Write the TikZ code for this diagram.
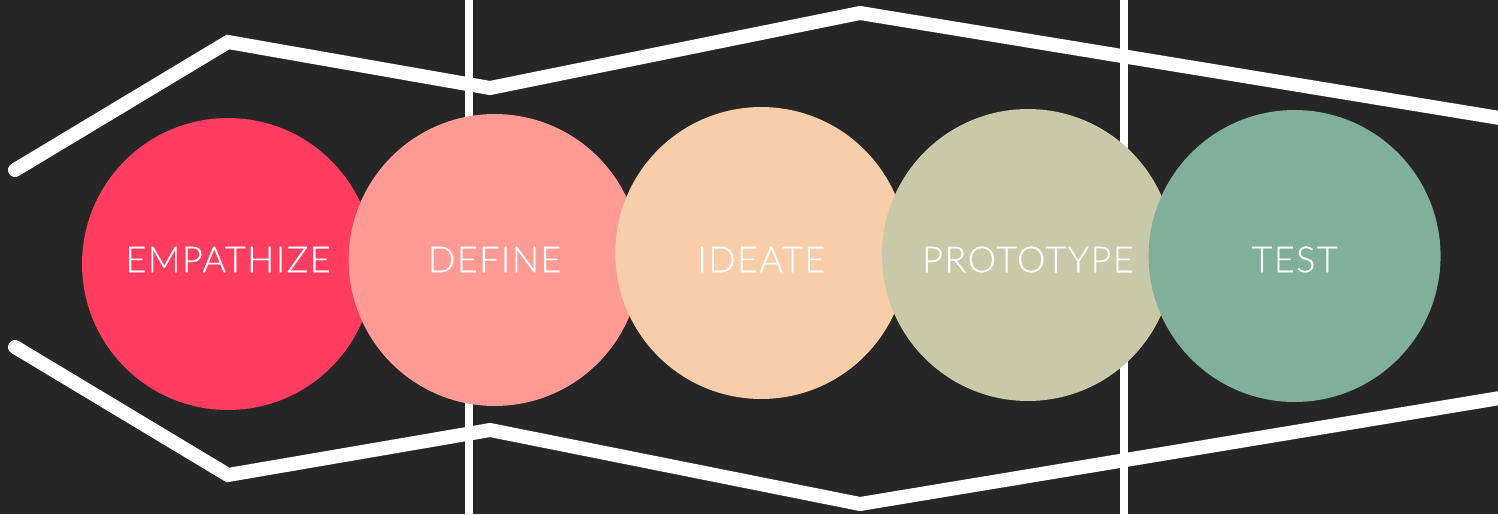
\documentclass[tikz,border=0pt]{standalone}
\usepackage{fontspec}
\setmainfont{Lato Light}[LetterSpace=4, FakeBold=0.3]
\usetikzlibrary{positioning}

\definecolor{bgcol}{HTML}{262626}
\definecolor{empcol}{HTML}{FF3D60}
\definecolor{defcol}{HTML}{FF9A94}
\definecolor{idecol}{HTML}{F8CDAA}
\definecolor{procol}{HTML}{C8C9A9}
\definecolor{tstcol}{HTML}{80B09A}

\begin{document}
\begin{tikzpicture}[x=0.02cm, y=-0.02cm,
  phase/.style={circle, inner sep=0pt, minimum size=5.84cm},
  tag/.style={text=white, inner sep=0pt, font=\fontsize{20.5}{24}\selectfont},
  band/.style={white, line width=0.28cm},
  wall/.style={white, line width=0.16cm}]
  \useasboundingbox (0,0) rectangle (1498,514);
  \fill[bgcol] (0,0) rectangle (1498,514);
  \draw[band, line cap=round] (15,170) -- (228,42) -- (490,88) -- (860,13) -- (1530,123);
  \draw[band, line cap=round] (15,347) -- (228,475) -- (490,430) -- (860,504) -- (1530,393);
  \draw[wall] (469,0) -- (469,514);
  \draw[wall] (1124,0) -- (1124,514);
  % circles
  \node[phase, fill=empcol] (emp) at (228,264) {};
  \node[phase, fill=defcol] (def) [right=-0.52cm of emp, yshift=0.08cm] {};
  \node[phase, fill=idecol] (ide) [right=-0.52cm of def, yshift=0.14cm] {};
  \node[phase, fill=procol] (pro) [right=-0.52cm of ide, yshift=-0.04cm] {};
  \node[phase, fill=tstcol] (tst) [right=-0.52cm of pro, yshift=-0.02cm] {};
  % labels on one line
  \coordinate (mid) at (0,259.5);
  \node[tag] (emp-t) at (emp |- mid) {EMPATHIZE};
  \node[tag] (def-t) at (def |- mid) {DEFINE};
  \node[tag] (ide-t) at (ide |- mid) {IDEATE};
  \node[tag] (pro-t) at (pro |- mid) {PROTOTYPE};
  \node[tag] (tst-t) at (tst |- mid) {TEST};
\end{tikzpicture}
\end{document}
